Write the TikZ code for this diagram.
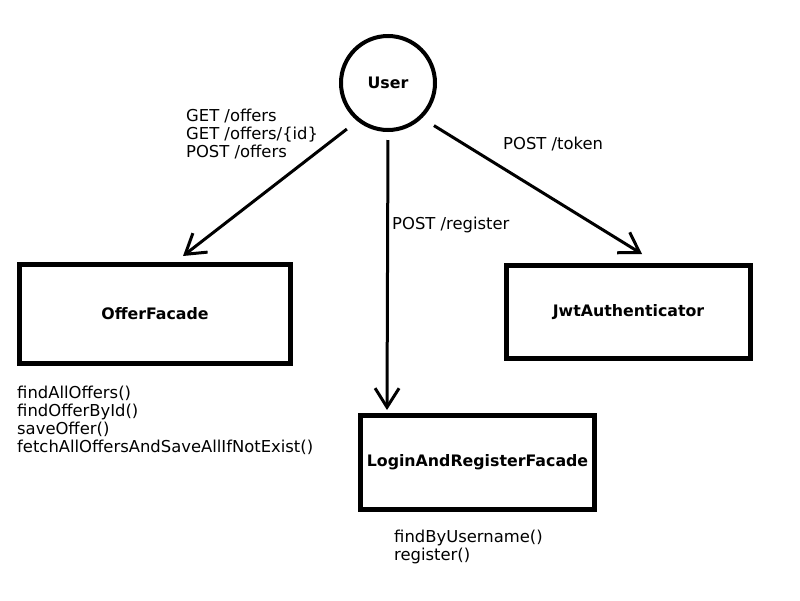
\documentclass[tikz,border=0pt]{standalone}
\usepackage{fontspec}
\setmainfont{DejaVu Sans}
\usetikzlibrary{arrows.meta}

\tikzset{
	facade/.style={draw, line width=5pt, inner sep=0pt, font=\fontsize{15.8}{19}\selectfont\bfseries},
	actor/.style={draw, circle, line width=4pt, minimum size=94pt, inner sep=0pt, font=\fontsize{15.8}{19}\selectfont\bfseries},
	call/.style={-{Straight Barb[length=19pt,width=24pt]}, line width=3pt},
	txt/.style={inner sep=0pt, align=left, anchor=base west, font=\fontsize{16.4}{18}\selectfont}
}

\begin{document}
\begin{tikzpicture}[x=1pt,y=-1pt]
	\useasboundingbox (0,0) rectangle (800,600);
	%user
		\node[actor] (user) at (388,83) {User};
	%facades
		\node[facade, minimum width=271pt, minimum height=99pt] (offer) at (155,314) {OfferFacade};
		\node[facade, minimum width=244pt, minimum height=93pt] (jwt) at (628.5,312) {JwtAuthenticator};
		\node[facade, minimum width=234pt, minimum height=94pt] (login) at (477.5,462.5) {LoginAndRegisterFacade};
	%requests
		\draw[call, shorten <=13pt] (user.231) -- ([xshift=28pt,yshift=6pt]offer.north);
		\draw[call, shorten <=8pt] (user.south) -- ([xshift=-90.5pt,yshift=3pt]login.north);
		\draw[call, shorten <=14pt] (user.314) -- ([xshift=13.5pt,yshift=9pt]jwt.north);
	%endpoint labels (base = last line)
		\node[txt] (offerreq) at (186,157) {GET /offers\\GET /offers/\{id\}\\POST /offers};
		\node[txt] (registerreq) at (392,229) {POST /register};
		\node[txt] (tokenreq) at (503,149) {POST /token};
	%methods
		\node[txt] (offermethods) at (17,452) {findAllOffers()\\findOfferById()\\saveOffer()\\fetchAllOffersAndSaveAllIfNotExist()};
		\node[txt] (loginmethods) at (394,560) {findByUsername()\\register()};
\end{tikzpicture}
\end{document}
